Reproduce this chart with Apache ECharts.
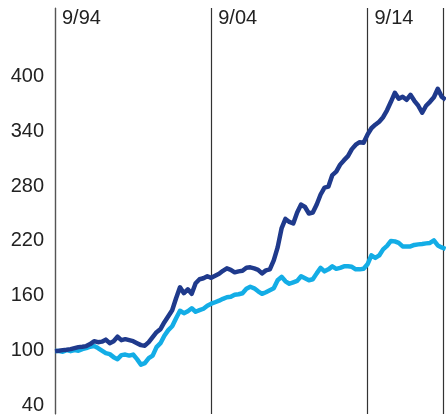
<!DOCTYPE html>
<html><head><meta charset="utf-8">
<script src="https://cdn.jsdelivr.net/npm/echarts@6/dist/echarts.min.js"></script>
<style>html,body{margin:0;padding:0;background:#fff}#c{width:446px;height:415px}</style>
</head><body><div id="c"></div>
<script>
// readings every 3 months, starting 9/94 (month 0)
const monthStep = 3;
const darkValues = [
  99.1, 99.6, 100.2, 100.7, 101.3, 102.4, 103.5, 104.0, 104.6, 106.8,
  110.0, 108.9, 109.5, 111.7, 107.8, 110.0, 114.9, 111.1, 112.2, 111.1,
  110.0, 107.8, 105.7, 105.1, 108.9, 114.4, 119.9, 123.2, 130.8, 137.4,
  144.0, 157.1, 169.1, 162.6, 166.9, 162.0, 173.5, 177.9, 179.0, 181.2,
  179.5, 181.7, 183.9, 187.2, 189.9, 188.3, 185.5, 186.6, 187.2, 190.5,
  191.0, 189.9, 188.3, 184.4, 187.7, 188.8, 198.7, 212.9, 233.7, 244.1,
  240.8, 239.1, 251.2, 259.9, 257.2, 250.1, 251.2, 259.9, 270.9, 278.5,
  279.6, 292.2, 296.0, 303.7, 308.6, 313.0, 320.7, 325.6, 328.3, 327.8,
  336.5, 343.6, 347.5, 350.8, 355.7, 363.3, 372.6, 382.5, 375.9, 378.1,
  374.8, 380.3, 373.7, 368.3, 360.6, 368.3, 372.6, 377.6, 386.9, 378.1,
  374.8
];
const lightValues = [
  99.1, 99.1, 98.5, 100.2, 99.1, 100.2, 99.6, 101.3, 102.4, 104.0,
  104.6, 102.4, 99.6, 96.9, 95.8, 92.5, 90.3, 94.7, 95.3, 94.2,
  95.3, 90.3, 84.3, 86.0, 91.4, 94.2, 103.5, 107.8, 116.0, 122.1,
  126.4, 135.2, 143.4, 140.7, 142.9, 146.1, 142.3, 144.0, 145.6, 148.9,
  151.1, 152.7, 154.4, 156.5, 158.2, 158.7, 160.9, 161.5, 162.6, 167.5,
  169.7, 168.0, 164.7, 162.0, 163.7, 165.8, 168.0, 176.8, 180.6, 175.7,
  173.0, 174.6, 176.2, 181.2, 179.0, 176.8, 177.9, 184.4, 190.5, 186.6,
  188.8, 192.1, 189.4, 190.5, 192.1, 192.1, 191.6, 188.8, 188.8, 189.4,
  194.3, 204.1, 201.4, 204.1, 210.7, 214.5, 220.0, 219.5, 217.8, 214.0,
  214.0, 214.0, 215.6, 216.2, 216.7, 217.3, 217.8, 220.5, 215.1, 212.9,
  211.2
];
const xTickMonths = [0, 120, 240];
const xTickLabels = ['9/94', '9/04', '9/14'];
const yTickValues = [40, 100, 160, 220, 280, 340, 400];

const toPairs = arr => arr.map((v, i) => [i * monthStep, v]);

const chart = echarts.init(document.getElementById('c'), null, {renderer: 'canvas'});
const font = 'Liberation Sans, Arial, Helvetica, sans-serif';
chart.setOption({
  animation: false,
  backgroundColor: '#fff',
  grid: {left: 55, right: 0, top: 8, bottom: 0, containLabel: false},
  xAxis: {
    type: 'value', min: 0, max: 298, interval: 120, position: 'top',
    axisLine: {show: false}, axisTick: {show: false},
    splitLine: {show: true, lineStyle: {color: '#333', width: 1.2}},
    axisLabel: {
      inside: true, margin: 0, align: 'left', verticalAlign: 'top', padding: [0, 0, 0, 7],
      color: '#222', fontSize: 20, fontFamily: font,
      formatter: v => { const i = xTickMonths.indexOf(v); return i >= 0 ? xTickLabels[i] : ''; }
    }
  },
  yAxis: {
    type: 'value', min: 30.2, max: 475.5,
    axisLine: {show: true, lineStyle: {color: '#555', width: 1.2}},
    axisTick: {show: false},
    splitLine: {show: false},
    axisLabel: {customValues: yTickValues, margin: 11, color: '#222', fontSize: 20, fontFamily: font}
  },
  series: [
    {type: 'line', data: toPairs(lightValues), showSymbol: false, lineStyle: {color: '#13ade6', width: 4.5, join: 'round'}, itemStyle: {color: '#13ade6'}},
    {type: 'line', data: toPairs(darkValues), showSymbol: false, lineStyle: {color: '#1f3a8c', width: 4.5, join: 'round'}, itemStyle: {color: '#1f3a8c'}}
  ]
});
</script></body></html>
